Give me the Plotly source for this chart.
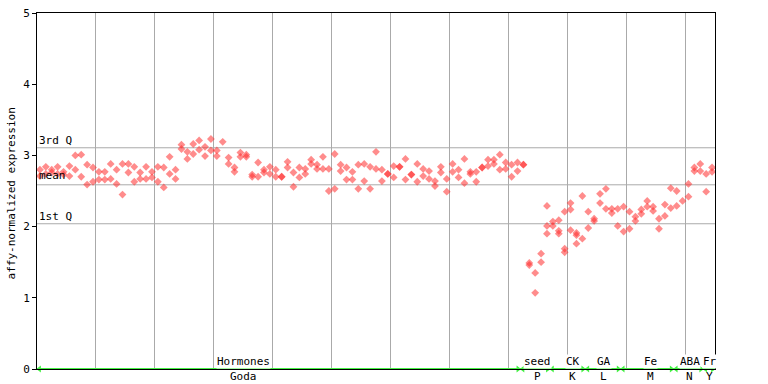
import numpy as np
import plotly.graph_objects as go

# ---- data ----
rep1 = [2.80, 2.84, 2.80, 2.84, 2.77, 2.85, 3.00, 3.01, 2.87, 2.83,
        2.77, 2.77, 2.88, 2.80, 2.88, 2.88, 2.84, 2.76, 2.84, 2.77,
        2.84, 2.83, 2.98, 2.80, 3.15, 3.05, 3.16, 3.21, 3.12, 3.23,
        3.07, 3.19, 2.97, 2.83, 3.04, 3.01, 2.73, 2.90, 2.80, 2.84,
        2.80, 2.70, 2.91, 2.76, 2.83, 2.81, 2.94, 2.87, 2.98, 2.81,
        3.02, 2.87, 2.83, 2.77, 2.87, 2.88, 2.84, 3.05, 2.80, 2.74,
        2.85, 2.84, 2.95, 2.73, 2.88, 2.81, 2.78, 2.64, 2.84, 2.67,
        2.88, 2.80, 2.95, 2.77, 2.77, 2.83, 2.94, 2.94, 3.01, 2.90,
        2.87, 2.90, 2.87, 1.49, 1.35, 1.62, 2.29, 2.07, 2.09, 2.21,
        2.33, 1.91, 2.43, 2.21, 2.11, 2.46, 2.53, 2.25, 2.25, 2.28,
        2.21, 2.14, 2.24, 2.36, 2.28, 2.11, 2.31, 2.54, 2.50, 2.36,
        2.60, 2.83, 2.88, 2.74, 2.83]
rep2 = [2.71, 2.74, 2.76, 2.74, 2.73, 2.71, 2.80, 2.70, 2.59, 2.63,
        2.66, 2.66, 2.67, 2.60, 2.45, 2.76, 2.63, 2.67, 2.67, 2.69,
        2.63, 2.55, 2.74, 2.67, 3.09, 2.95, 3.02, 3.08, 2.99, 3.07,
        2.99, None, 2.88, 2.77, 2.98, 2.98, 2.70, 2.70, 2.76, 2.74,
        2.70, 2.70, 2.83, 2.56, 2.69, 2.74, 2.88, 2.81, 2.81, 2.50,
        2.53, 2.78, 2.66, 2.66, 2.53, 2.64, 2.53, 2.81, 2.64, 2.74,
        2.69, 2.84, 2.66, 2.73, 2.63, 2.71, 2.67, 2.57, 2.76, 2.49,
        2.77, 2.69, 2.61, 2.74, 2.63, 2.83, 2.85, 2.88, 2.80, 2.81,
        2.70, 2.78, 2.87, 1.46, 1.07, 1.50, 2.01, 2.01, 1.94, 1.69,
        2.24, 1.88, 1.83, 1.98, 2.08, 2.33, 2.25, 2.19, 2.01, 1.93,
        1.97, 2.08, 2.18, 2.28, 2.22, 1.97, 2.15, 2.26, 2.29, None,
        2.42, 2.78, 2.78, 2.49, 2.77]
rep3 = [None] * 86 + [1.90, None, 1.90, 1.64, 1.95, 1.76] + [None] * 23

q3_value = 3.107
mean_value = 2.587
q1_value = 2.04

groups_top = ["Hormones", "seed", "CK", "GA", "Fe", "ABA", "Fr"]
groups_bottom = ["Goda", "P", "K", "L", "M", "N", "Y"]
group_start = [0, 82, 87, 93, 99, 108, 113]
group_end = [81, 86, 92, 98, 107, 112, 114]
group_label_pos = [34.6, 84.4, 90.4, 95.6, 103.6, 110.2, 113.6]

yticks = [0, 1, 2, 3, 4, 5]

# ---- figure ----
MONO = "DejaVu Sans Mono"
n = len(rep1)
idx = np.arange(n)
xs, ys = [], []
for rep in (rep1, rep2, rep3):
    for i, v in zip(idx, rep):
        if v is not None:
            xs.append(i)
            ys.append(v)

fig = go.Figure()
fig.add_trace(go.Scatter(
    x=xs, y=ys, mode="markers",
    marker=dict(symbol="diamond", size=6, color="rgba(255,45,45,0.55)",
                line=dict(width=0)),
    hoverinfo="skip", showlegend=False))

# green group line with arrowheads
green = "#45f045"
fig.add_shape(type="line", xref="x", yref="y", x0=-0.5, x1=n - 0.5, y0=0, y1=0,
              line=dict(color=green, width=2), layer="above")
ax_l = [s - 0.1 for s in group_start]
ax_r = [e + 0.1 for e in group_end]
fig.add_trace(go.Scatter(x=ax_l, y=[0] * len(ax_l), mode="markers",
                         marker=dict(symbol="triangle-left", size=6, color=green),
                         cliponaxis=False, hoverinfo="skip", showlegend=False))
fig.add_trace(go.Scatter(x=ax_r, y=[0] * len(ax_r), mode="markers",
                         marker=dict(symbol="triangle-right", size=6, color=green),
                         cliponaxis=False, hoverinfo="skip", showlegend=False))

# quartile / mean lines
for val, lab, dy in ((q3_value, "3rd Q", 0), (mean_value, "mean", 2), (q1_value, "1st Q", 0)):
    fig.add_shape(type="line", xref="paper", yref="y", x0=0, x1=1, y0=val, y1=val,
                  line=dict(color="#aaaaaa", width=1), layer="below")
    fig.add_annotation(x=0, xref="paper", y=val, yref="y", text=lab, showarrow=False,
                       xanchor="left", yanchor="bottom", yshift=dy - 1,
                       font=dict(family=MONO, size=11, color="black"))

for t, b, p in zip(groups_top, groups_bottom, group_label_pos):
    fig.add_annotation(x=p, xref="x", y=0.0197, yref="paper", text=t, showarrow=False,
                       xanchor="center", yanchor="middle", bgcolor="white", borderpad=0,
                       font=dict(family=MONO, size=11, color="black"))
    fig.add_annotation(x=p, xref="x", y=-0.0197, yref="paper", text=b, showarrow=False,
                       xanchor="center", yanchor="middle",
                       font=dict(family=MONO, size=11, color="black"))

fig.add_annotation(x=-0.037, xref="paper", y=0.493, yref="paper",
                   text="affy-normalized expression", textangle=-90, showarrow=False,
                   xanchor="center", yanchor="middle",
                   font=dict(family=MONO, size=11, color="black"))

fig.update_layout(
    width=768, height=384, autosize=False,
    margin=dict(l=37, r=53, t=13, b=15, pad=0),
    paper_bgcolor="white", plot_bgcolor="white",
    font=dict(family=MONO, size=11, color="black"),
    xaxis=dict(range=[-0.5, n - 0.5], showgrid=True, gridcolor="#aaaaaa", gridwidth=1,
               tick0=-0.5, dtick=10, showticklabels=False, ticks="",
               zeroline=False, showline=True, linecolor="black", linewidth=1, mirror=True,
               automargin=False),
    yaxis=dict(range=[0, 5], tickvals=yticks, ticks="outside", ticklen=4, tickcolor="black",
               showgrid=False, zeroline=False, showline=True, linecolor="black",
               linewidth=1, mirror=True, tickfont=dict(family=MONO, size=11),
               automargin=False),
)

fig.write_html("out.html", config={"displayModeBar": False},
               post_script="document.body.style.margin='0';document.body.style.overflow='hidden';")
